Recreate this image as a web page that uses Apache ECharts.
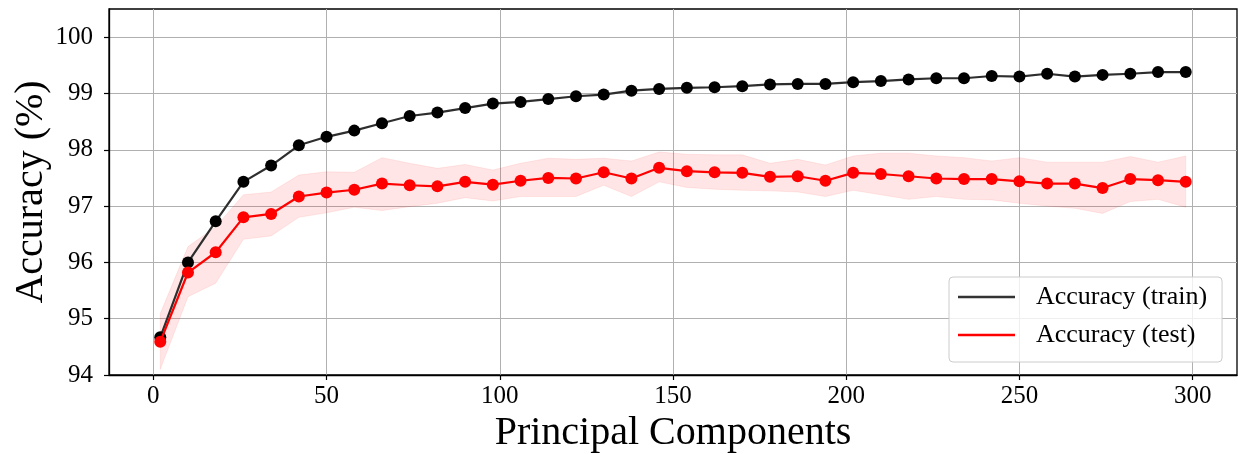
<!DOCTYPE html>
<html>
<head>
<meta charset="utf-8">
<script src="https://cdn.jsdelivr.net/npm/echarts@6/dist/echarts.min.js"></script>
<style>html,body{margin:0;padding:0;background:#fff;}#c{width:1238px;height:454px;}</style>
</head>
<body>
<div id="c"></div>
<script>
const components = [2,10,18,26,34,42,50,58,66,74,82,90,98,106,114,122,130,138,146,154,162,170,178,186,194,202,210,218,226,234,242,250,258,266,274,282,290,298];
const trainAcc = [94.67,96.00,96.73,97.43,97.72,98.08,98.23,98.34,98.47,98.60,98.66,98.74,98.82,98.85,98.90,98.95,98.98,99.05,99.08,99.10,99.11,99.13,99.16,99.17,99.17,99.20,99.22,99.25,99.27,99.27,99.31,99.30,99.35,99.30,99.33,99.35,99.38,99.38];
const testAcc = [94.59,95.82,96.18,96.80,96.86,97.17,97.24,97.29,97.40,97.37,97.35,97.43,97.38,97.45,97.50,97.49,97.60,97.49,97.68,97.62,97.60,97.59,97.52,97.53,97.45,97.59,97.57,97.53,97.49,97.48,97.48,97.44,97.40,97.40,97.32,97.48,97.46,97.43];
const testUpper = [95.09,96.28,96.63,97.20,97.25,97.55,97.61,97.60,97.86,97.76,97.67,97.74,97.64,97.76,97.85,97.83,97.85,97.80,97.96,97.92,97.91,97.91,97.76,97.83,97.73,97.89,97.94,97.94,97.89,97.86,97.80,97.86,97.78,97.78,97.78,97.88,97.78,97.89];
const testLower = [94.10,95.39,95.63,96.41,96.47,96.80,96.88,96.98,96.92,96.99,97.05,97.15,97.09,97.17,97.17,97.17,97.37,97.17,97.43,97.33,97.30,97.28,97.27,97.25,97.17,97.28,97.20,97.12,97.17,97.12,97.11,97.05,97.00,96.96,96.87,97.08,97.12,96.98];
const xTicks = [0,50,100,150,200,250,300];
const yTicks = [94,95,96,97,98,99,100];
const seriesNames = ['Accuracy (train)','Accuracy (test)'];
const xLabel = 'Principal Components';
const yLabel = 'Accuracy (%)';

const FONT = '"Liberation Serif","Times New Roman",serif';
const chart = echarts.init(document.getElementById('c'), null, {renderer:'canvas'});

const bandData = components.map((x,i)=>[x, testLower[i], testUpper[i]]);

const option = {
  animation:false,
  backgroundColor:'#fff',
  grid:{left:109,right:1,top:9,bottom:79,show:true,borderColor:'#000',borderWidth:1.3,containLabel:false,outerBoundsMode:'none'},
  xAxis:{
    type:'value',min:-12.8,max:312.8,
    name:xLabel,nameLocation:'middle',nameGap:38,nameMoveOverlap:false,
    nameTextStyle:{fontFamily:FONT,fontSize:40,color:'#000'},
    axisLine:{show:true,onZero:false,lineStyle:{color:'#000',width:1.3}},
    axisTick:{show:true,inside:false,length:5,lineStyle:{color:'#000',width:1.2},customValues:xTicks},
    axisLabel:{fontFamily:FONT,fontSize:25,color:'#000',margin:9,customValues:xTicks},
    splitLine:{show:true,lineStyle:{color:'#b0b0b0',width:1}}
  },
  yAxis:{
    type:'value',min:94,max:100.5,
    name:yLabel,nameLocation:'middle',nameGap:58,nameRotate:90,nameMoveOverlap:false,
    nameTextStyle:{fontFamily:FONT,fontSize:40,color:'#000'},
    axisLine:{show:true,onZero:false,lineStyle:{color:'#000',width:1.3}},
    axisTick:{show:true,inside:false,length:5,lineStyle:{color:'#000',width:1.2},customValues:yTicks},
    axisLabel:{fontFamily:FONT,fontSize:25,color:'#000',margin:16,customValues:yTicks},
    splitLine:{show:true,lineStyle:{color:'#b0b0b0',width:1}}
  },
  legend:{
    orient:'vertical',left:949,top:277,
    padding:[5,15,12,9],itemGap:8,
    backgroundColor:'rgba(255,255,255,0.8)',borderColor:'#cccccc',borderWidth:1,borderRadius:4,
    icon:'rect',itemWidth:57,itemHeight:2.5,
    textStyle:{fontFamily:FONT,fontSize:26,color:'#000',lineHeight:30,padding:[0,0,0,16]},
    data:[
      {name:seriesNames[0],itemStyle:{color:'#333333'}},
      {name:seriesNames[1],itemStyle:{color:'#ff0000'}}
    ]
  },
  series:[
    {
      type:'custom',name:'band',silent:true,z:1,
      data:bandData,
      encode:{x:0,y:[1,2]},
      renderItem:function(params,api){
        if(params.dataIndex!==0) return null;
        const up = components.map((x,i)=>api.coord([x,testUpper[i]]));
        const lo = components.map((x,i)=>api.coord([x,testLower[i]])).reverse();
        return {type:'polygon',shape:{points:up.concat(lo)},
          style:{fill:'rgba(255,0,0,0.1)',stroke:'rgba(255,0,0,0.08)',lineWidth:1}};
      }
    },
    {
      type:'line',name:seriesNames[0],z:3,
      data:components.map((x,i)=>[x,trainAcc[i]]),
      symbol:'circle',symbolSize:12,showSymbol:true,
      lineStyle:{color:'#2e2e2e',width:2.2},
      itemStyle:{color:'#000'}
    },
    {
      type:'line',name:seriesNames[1],z:4,
      data:components.map((x,i)=>[x,testAcc[i]]),
      symbol:'circle',symbolSize:12,showSymbol:true,
      lineStyle:{color:'#ff0000',width:2.2},
      itemStyle:{color:'#ff0000'}
    }
  ]
};
chart.setOption(option);
</script>
</body>
</html>
